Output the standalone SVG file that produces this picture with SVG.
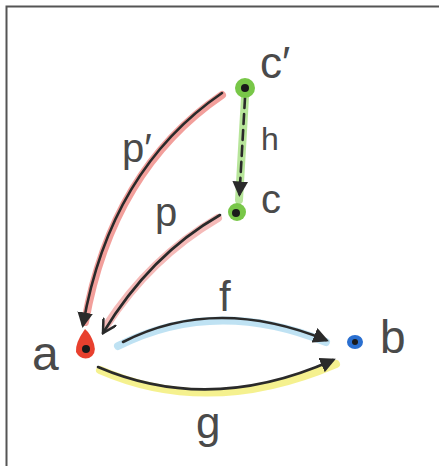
<svg xmlns="http://www.w3.org/2000/svg" width="439" height="466" viewBox="0 0 439 466">
<style>
.lbl{font-family:"Liberation Sans","DejaVu Sans",sans-serif;fill:#4a4a4a;}
.ink{fill:none;stroke:#2a2a2a;stroke-width:2.6;stroke-linecap:round;}
.hl{fill:none;stroke-linecap:round;stroke-width:8;opacity:0.75;}
.dot{fill:#1a1a1a;}
</style>
<defs>
<marker id="tri" viewBox="0 0 10 10" refX="8" refY="5" markerWidth="6" markerHeight="6" orient="auto" markerUnits="strokeWidth">
<path d="M0,0 L10,5 L0,10 z" fill="#2a2a2a"/>
</marker>
<marker id="vee" viewBox="0 0 10 10" refX="9" refY="5" markerWidth="6" markerHeight="6" orient="auto" markerUnits="strokeWidth">
<path d="M1,0.5 L9,5 L1,9.5" fill="none" stroke="#2a2a2a" stroke-width="1.6" stroke-linecap="round"/>
</marker>
</defs>
<rect width="439" height="466" fill="#ffffff"/>
<path d="M6.5,466 V6.5 H439" fill="none" stroke="#555" stroke-width="2"/>
<g id="connectors">
<path class="hl" stroke="#ee7f7a" d="M222,95 Q112,170 85,322"/>
<path class="ink" d="M222,93 Q110,170 83,325" marker-end="url(#tri)"/>
<path class="hl" stroke="#f1a3a0" d="M218,218 Q150,258 106,326"/>
<path class="ink" d="M220,215 Q150,255 103,333" marker-end="url(#vee)"/>
<path class="hl" stroke="#a9d8ef" d="M118,346 Q215,297 326,342"/>
<path class="ink" d="M123,342 Q215,295 326,340" marker-end="url(#tri)"/>
<path class="hl" stroke="#f2ec6a" d="M100,370 Q210,418 336,364"/>
<path class="ink" d="M98,367 Q210,415 333,360" marker-end="url(#tri)"/>
<path class="hl" stroke="#9fdc78" stroke-width="6" d="M245,97 L239,200"/>
<path class="ink" stroke-dasharray="10 6" d="M245,98 L239.5,194" marker-end="url(#tri)"/>
</g>
<g id="node-cprime">
<circle cx="245" cy="88" r="10" fill="#78c748"/>
<circle class="dot" cx="245" cy="88" r="4"/>
<text class="lbl" x="260" y="78" font-size="44">c′</text>
</g>
<g id="node-c">
<circle cx="237" cy="212" r="9" fill="#78c748"/>
<circle class="dot" cx="236" cy="213" r="4"/>
<text class="lbl" x="261" y="213" font-size="40">c</text>
</g>
<g id="node-a">
<path d="M85,329 Q75,343 76,352 Q80,360 89,358 Q97,354 94,344 Q91,334 85,329 Z" fill="#e8402e"/>
<circle class="dot" cx="86" cy="349" r="4"/>
<text class="lbl" x="32" y="370" font-size="48">a</text>
</g>
<g id="node-b">
<ellipse cx="355" cy="342" rx="8" ry="7" fill="#2a6fd0"/>
<circle class="dot" cx="355" cy="342" r="3"/>
<text class="lbl" x="380" y="353" font-size="46">b</text>
</g>
<g id="labels">
<text class="lbl" x="122" y="162" font-size="40">p′</text>
<text class="lbl" x="261" y="150" font-size="32">h</text>
<text class="lbl" x="155" y="226" font-size="40">p</text>
<text class="lbl" x="219" y="311" font-size="42">f</text>
<text class="lbl" x="196" y="438" font-size="44">g</text>
</g>
</svg>
